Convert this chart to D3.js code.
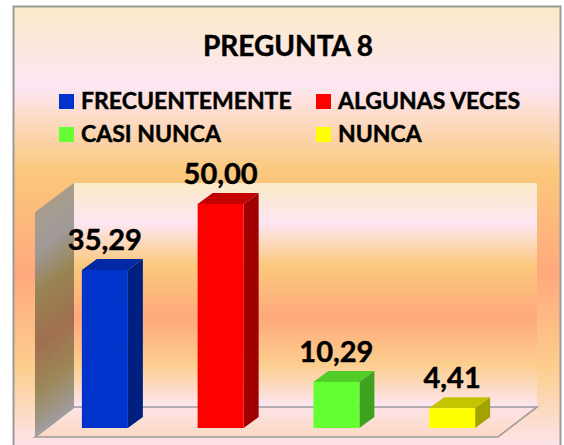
<!DOCTYPE html>
<html><head><meta charset="utf-8">
<script src="https://cdn.jsdelivr.net/npm/d3@7/dist/d3.min.js"></script>
<style>html,body{margin:0;padding:0;background:#fff}svg{display:block}text{font-family:Lato,"Open Sans",sans-serif;font-weight:700;fill:#000;stroke:#000;stroke-width:.45px}</style>
</head><body><script>
const categories=["FRECUENTEMENTE","ALGUNAS VECES","CASI NUNCA","NUNCA"];
const values=[35.29,50.00,10.29,4.41];
const labels=["35,29","50,00","10,29","4,41"];
const frontColors=["#0033CC","#FF0000","#66FF33","#FFFF00"];
const topColors=["#0029A3","#C40000","#52CC29","#C4C400"];
const sideColors=["#002080","#A00000","#3DA31F","#A3A300"];
const bgStops=[[0,"#FBEAC8"],[.18,"#FDE6F2"],[.37,"#FBC87C"],[.6,"#FFA97C"],[.81,"#FCCE8E"],[1,"#FDE6F2"]];
const wallStops=[[0,"#A89D8A"],[.18,"#A09A9A"],[.37,"#988452"],[.6,"#A06F50"],[.81,"#9C8858"],[1,"#A09C9E"]];

const W=564,H=445,dx=15,dy=11,depthX=39,depthY=29;
const svg=d3.select("body").append("svg").attr("width",W).attr("height",H);
const defs=svg.append("defs");
function grad(id,stops){const g=defs.append("linearGradient").attr("id",id).attr("x1",0).attr("x2",0).attr("y1",0).attr("y2",1);
 g.selectAll("stop").data(stops).join("stop").attr("offset",d=>d[0]).attr("stop-color",d=>d[1]);}
grad("bg",bgStops);grad("wall",wallStops);
grad("floor",[[0,"#FDE3E6"],[1,"#FBD9C2"]]);

const y=d3.scaleLinear().domain([0,50]).range([428,204]);
const x=d3.scaleBand().domain(categories).range([47,510]).paddingInner(.6026).paddingOuter(.3013);

svg.append("rect").attr("x",13.5).attr("y",6.5).attr("width",547).attr("height",446)
 .attr("fill","url(#bg)").attr("stroke","#9a9a9a").attr("stroke-width",2);

// back wall, floor, side wall
const bx0=74,bx1=537,by0=183,by1=407;
svg.append("rect").attr("x",bx0).attr("y",by0).attr("width",bx1-bx0).attr("height",by1-by0).attr("fill","url(#bg)");
svg.append("polygon").attr("points",[[bx0,by1],[bx1,by1],[bx1-depthX,by1+depthY+1],[bx0-depthX,by1+depthY+1]].join(" ")).attr("fill","url(#floor)");
svg.append("rect").attr("x",bx0-depthX).attr("y",by0).attr("width",depthX).attr("height",by1-by0)
 .attr("transform",`matrix(1,${-depthY/depthX},0,1,0,${bx0*depthY/depthX})`).attr("fill","url(#wall)");
svg.append("path").attr("d",`M${bx0},${by1}H${bx1}L${bx1-depthX},${by1+depthY+1}H${bx0-depthX}Z`)
 .attr("fill","none").attr("stroke","#9c9c9c").attr("stroke-width",1.6);

// bars
const d=categories.map((c,i)=>({c,v:values[i],l:labels[i],f:frontColors[i],t:topColors[i],s:sideColors[i]}));
const g=svg.selectAll("g.bar").data(d).join("g").attr("class","bar");
g.append("polygon").attr("fill",e=>e.t).attr("points",e=>{const a=x(e.c),b=a+x.bandwidth(),t=y(e.v);return `${a},${t} ${a+dx},${t-dy} ${b+dx},${t-dy} ${b},${t}`;});
g.append("polygon").attr("fill",e=>e.s).attr("points",e=>{const b=x(e.c)+x.bandwidth(),t=y(e.v),z=y(0);return `${b},${t} ${b+dx},${t-dy} ${b+dx},${z-dy} ${b},${z}`;});
g.append("rect").attr("fill",e=>e.f).attr("x",e=>x(e.c)).attr("y",e=>y(e.v)).attr("width",x.bandwidth()).attr("height",e=>y(0)-y(e.v));
g.append("text").attr("x",e=>x(e.c)+x.bandwidth()/2).attr("y",e=>y(e.v)-20).attr("text-anchor","middle").attr("font-size",29).text(e=>e.l);

// title
svg.append("text").attr("x",288).attr("y",56).attr("text-anchor","middle").attr("font-size",28).text("PREGUNTA 8");

// legend
const lx=[59,316],ly=[94,127];
const lg=svg.selectAll("g.leg").data(d).join("g").attr("class","leg").attr("transform",(e,i)=>`translate(${lx[i%2]},${ly[i>>1]})`);
lg.append("rect").attr("width",15).attr("height",15).attr("fill",e=>e.f).attr("stroke","none");
lg.append("text").attr("x",22).attr("y",14.5).attr("font-size",23).text(e=>e.c);
</script></body></html>
